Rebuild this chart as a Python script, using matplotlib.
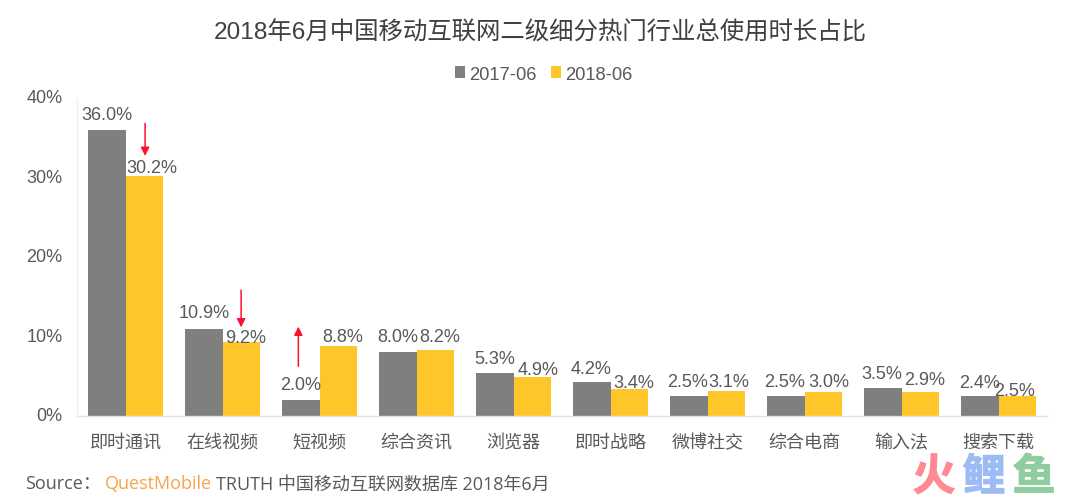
import matplotlib
matplotlib.use("Agg")
import matplotlib.pyplot as plt
import matplotlib.patheffects as pe
from matplotlib.transforms import ScaledTranslation
import numpy as np

plt.rcParams['font.family'] = ['Liberation Sans', 'Noto Sans CJK SC', 'DejaVu Sans']

categories = ['即时通讯', '在线视频', '短视频', '综合资讯', '浏览器', '即时战略', '微博社交', '综合电商', '输入法', '搜索下载']
values_2017 = [36.0, 10.9, 2.0, 8.0, 5.3, 4.2, 2.5, 2.5, 3.5, 2.4]
values_2018 = [30.2, 9.2, 8.8, 8.2, 4.9, 3.4, 3.1, 3.0, 2.9, 2.5]
series_names = ['2017-06', '2018-06']
y_ticks = [0, 10, 20, 30, 40]

W, H = 1080, 502
fig = plt.figure(figsize=(W / 100, H / 100), dpi=100)
ax = fig.add_axes([77.2 / W, 1 - 416.5 / H, 970 / W, 317.5 / H])
x = np.arange(len(categories))
bw = 0.387
grey, yellow, txt = '#7f7f7f', '#ffc62a', '#595959'
b1 = ax.bar(x - bw / 2, values_2017, bw, color=grey, label=series_names[0])
b2 = ax.bar(x + bw / 2, values_2018, bw, color=yellow, label=series_names[1])
ax.set_xlim(-0.5, len(categories) - 0.5)
ax.set_ylim(0, 40)
ax.set_yticks(y_ticks, [f'{t}%' for t in y_ticks])
ax.set_xticks(x, categories)
ax.tick_params(axis='both', length=0, colors=txt, labelsize=13)
ax.tick_params(axis='x', pad=13.2)
ax.tick_params(axis='y', pad=10.5)
shift = ScaledTranslation(0, 2 / 100, fig.dpi_scale_trans)
for lab in ax.get_yticklabels():
    lab.set_transform(lab.get_transform() + shift)
for s in ('top', 'right'):
    ax.spines[s].set_visible(False)
ax.spines['left'].set_color('#f0f0f0')
ax.spines['bottom'].set_color('#e4e4e4')
for s in ('left', 'bottom'):
    ax.spines[s].set_linewidth(1)

# label nudges in pixels from each bar's top centre to the label's centre
nudge_2017 = [(0, 15), (0, 16), (0, 15), (0, 15), (0, 15), (-1, 14), (-1, 14), (-1, 14), (-1, 14), (0, 14)]
nudge_2018 = [(7.5, 8), (4.5, 5), (4.5, 9), (4.5, 14), (5.5, 7), (4, 6), (2.5, 9), (5, 10), (4.5, 13), (-2.5, 5)]
for rects, vals, nudges in ((b1, values_2017, nudge_2017), (b2, values_2018, nudge_2018)):
    for r, v, n in zip(rects, vals, nudges):
        ax.annotate(f'{v:.1f}%', (r.get_x() + r.get_width() / 2, v), xytext=n,
                    textcoords='offset pixels', ha='center', va='center',
                    fontsize=13, color=txt, annotation_clip=False)

# red trend arrows
for xa, y0, y1 in ((0.2, 36.8, 32.7), (1.19, 15.8, 11.1), (1.78, 6.2, 11.2)):
    ax.annotate('', xy=(xa, y1), xytext=(xa, y0), annotation_clip=False,
                arrowprops=dict(arrowstyle='-|>,head_width=0.25,head_length=0.5', color='#ff0f2b', lw=1.1,
                                shrinkA=0, shrinkB=0))

fig.legend(handles=[b1, b2], loc='center', bbox_to_anchor=(543.5 / W, 1 - 75 / H), ncol=2, frameon=False,
           fontsize=13.2, labelcolor=txt, handlelength=0.55, handleheight=0.55, handletextpad=0.2,
           columnspacing=0.8)

fig.text(540 / W, 1 - 33 / H, '2018年6月中国移动互联网二级细分热门行业总使用时长占比', ha='center', va='center',
         fontsize=17.6, color='#404040')

fig.text(25 / W, 1 - 484.5 / H, 'Source：', fontsize=13, color=txt, va='center', family=['Open Sans', 'Noto Sans CJK SC'])
fig.text(105 / W, 1 - 484.5 / H, 'QuestMobile', fontsize=13, color='#f7a24c', va='center', family=['Open Sans'])
fig.text(216 / W, 1 - 484.5 / H, 'TRUTH 中国移动互联网数据库 2018年6月', fontsize=13, color=txt, va='center',
         family=['Open Sans', 'Noto Sans CJK SC'])

for ch, xp, col in (('火', 934, '#ff8a92'), ('鲤', 984, '#9dbcf5'), ('鱼', 1034, '#8fcca0')):
    fig.text(xp / W, 1 - 478 / H, ch, fontsize=31, color=col, ha='center', va='center',
             family=['Noto Sans CJK SC'], fontweight='bold',
             path_effects=[pe.withStroke(linewidth=0.8, foreground=col)])

fig.savefig('out.png', dpi=100, facecolor='white')
